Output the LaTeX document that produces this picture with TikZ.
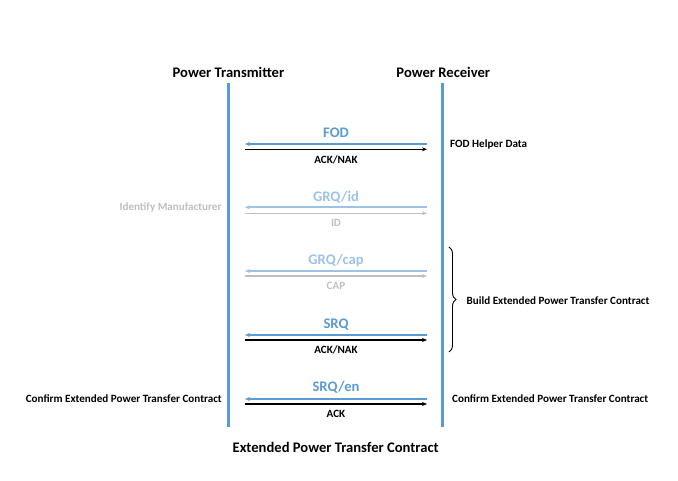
\documentclass[tikz,border=0pt]{standalone}
\usepackage{fontspec}
\setmainfont{Carlito}
\usetikzlibrary{arrows.meta,decorations.pathreplacing}
\definecolor{lifeblue}{HTML}{5B9BD5}
\definecolor{lightblue}{HTML}{9DC3E6}
\definecolor{lightgray}{HTML}{BFBFBF}
\tikzset{
  lifeline/.style={draw=lifeblue,line width=2.8pt},
  header/.style={font=\bfseries\fontsize{14.6}{16}\selectfont,inner sep=0pt},
  msgbig/.style={font=\bfseries\fontsize{14.6}{16}\selectfont,inner sep=0pt,text=lifeblue},
  msgbiglight/.style={font=\bfseries\fontsize{14.6}{16}\selectfont,inner sep=0pt,text=lightblue},
  small/.style={font=\bfseries\fontsize{11.1}{12}\selectfont,inner sep=0pt},
  smallgray/.style={small,text=lightgray},
  reqarrow/.style={draw=lifeblue,line width=1.6pt,-{Stealth[length=5pt,width=4pt]}},
  reqarrowlight/.style={draw=lightblue,line width=1.6pt,-{Stealth[length=5pt,width=4pt]}},
  resparrow/.style={draw=black,line width=1.3pt,-{Stealth[length=5pt,width=4pt]}},
  resparrowgray/.style={draw=lightgray,line width=1.3pt,-{Stealth[length=5pt,width=4pt]}},
}
\begin{document}
\begin{tikzpicture}[x=1pt,y=-1pt]
\useasboundingbox (0,0) rectangle (678,481);
% headers
\node[header] (pt) at (228.5,72.5) {Power Transmitter};
\node[header] (pr) at (443.3,72.5) {Power Receiver};
% lifelines
\coordinate (lt) at (228.3,83);
\coordinate (lb) at (228.3,427);
\coordinate (rt) at (442.7,83);
\coordinate (rb) at (442.7,427);
\draw[lifeline] (lt) -- (lb);
\draw[lifeline] (rt) -- (rb);
% FOD
\node[msgbig] (fod) at (336,132.5) {FOD};
\coordinate (fodR) at (427,144); \coordinate (fodL) at (245,144);
\coordinate (ackL1) at (245,149.3); \coordinate (ackR1) at (427,149.3);
\draw[reqarrow] (fodR) -- (fodL);
\draw[resparrow] (ackL1) -- (ackR1);
\node[small] (ack1) at (336,160) {ACK/NAK};
\node[small,anchor=west] (fodh) at (450,144) {FOD Helper Data};
% GRQ/id
\node[msgbiglight] (grqid) at (336,197) {GRQ/id};
\coordinate (gidR) at (427,207.3); \coordinate (gidL) at (245,207.3);
\coordinate (idL) at (245,213.3); \coordinate (idR) at (427,213.3);
\draw[reqarrowlight] (gidR) -- (gidL);
\draw[resparrowgray] (idL) -- (idR);
\node[smallgray] (id) at (336,223.3) {ID};
\node[smallgray,anchor=east] (idm) at (221.7,207.7) {Identify Manufacturer};
% GRQ/cap
\node[msgbiglight] (grqcap) at (336,260.5) {GRQ/cap};
\coordinate (gcR) at (427,271); \coordinate (gcL) at (245,271);
\coordinate (capL) at (245,276); \coordinate (capR) at (427,276);
\draw[reqarrowlight] (gcR) -- (gcL);
\draw[resparrowgray] (capL) -- (capR);
\node[smallgray] (cap) at (336,286) {CAP};
% SRQ
\node[msgbig] (srq) at (336,325) {SRQ};
\coordinate (sR) at (427,335); \coordinate (sL) at (245,335);
\coordinate (aL2) at (245,340); \coordinate (aR2) at (427,340);
\draw[reqarrow] (sR) -- (sL);
\draw[resparrow] (aL2) -- (aR2);
\node[small] (ack2) at (336,350) {ACK/NAK};
% brace
\coordinate (bt) at (449,247); \coordinate (bb) at (449,352);
\draw[decorate,decoration={brace,amplitude=7pt},line width=0.9pt] (bt) -- (bb);
\node[small,anchor=west] (build) at (466.5,301) {Build Extended Power Transfer Contract};
% SRQ/en
\node[msgbig] (srqen) at (336,387) {SRQ/en};
\coordinate (eR) at (427,399); \coordinate (eL) at (245,399);
\coordinate (aL3) at (245,404); \coordinate (aR3) at (427,404);
\draw[reqarrow] (eR) -- (eL);
\draw[resparrow] (aL3) -- (aR3);
\node[small] (ack3) at (336,414) {ACK};
\node[small,anchor=east] (cl) at (222,398.5) {Confirm Extended Power Transfer Contract};
\node[small,anchor=west] (cr) at (452,398.5) {Confirm Extended Power Transfer Contract};
% bottom
\node[header] (ept) at (335.7,447.5) {Extended Power Transfer Contract};
\end{tikzpicture}
\end{document}
